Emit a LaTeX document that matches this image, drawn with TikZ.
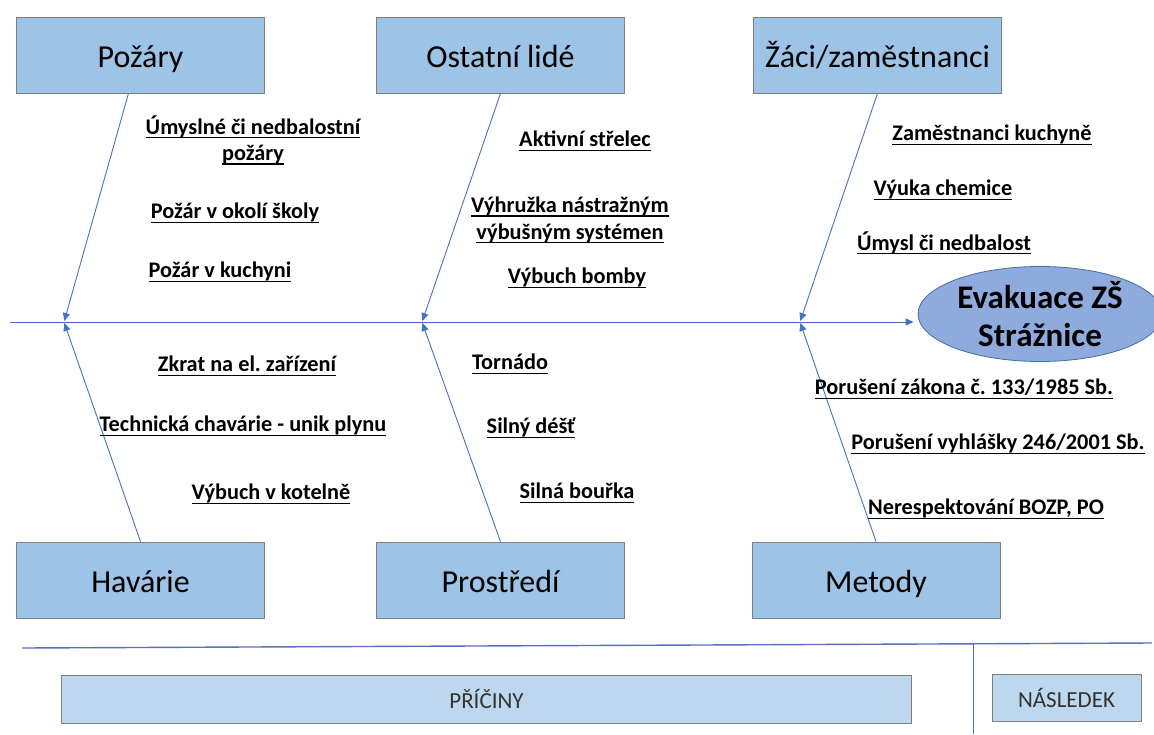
\documentclass[tikz,border=0pt]{standalone}
\usepackage{fontspec}
\setmainfont{Carlito}
\usetikzlibrary{arrows.meta,shapes.geometric}
\definecolor{bonecol}{HTML}{4472C4}
\definecolor{boxfill}{HTML}{9DC3E6}
\definecolor{boxline}{HTML}{7F7F7F}
\definecolor{footfill}{HTML}{BDD7EE}
\definecolor{effectfill}{HTML}{8FAADC}
\definecolor{effectline}{HTML}{41719C}
\definecolor{rulecol}{HTML}{5A6FBF}
\newcommand{\causeul}[1]{\setbox0\hbox{#1}\leavevmode\rlap{\rule[-4pt]{\wd0}{1.3pt}}\box0}
\frenchspacing

\begin{document}
\begin{tikzpicture}[x=1pt,y=-1pt,
  category/.style={draw=boxline,line width=0.8pt,fill=boxfill,minimum width=248pt,minimum height=76pt,inner sep=0pt,text height=24pt,text depth=0pt,font=\fontsize{32}{38}\selectfont},
  cause/.style={font=\fontsize{22.3}{26.5}\selectfont\bfseries,align=center,inner sep=0pt},
  bone/.style={draw=bonecol,line width=0.9pt,shorten >=1pt,-{Triangle[length=8pt,width=7pt]}},
  footbox/.style={draw=boxline,line width=0.8pt,fill=footfill,minimum height=48pt,inner sep=0pt,font=\fontsize{23}{27}\selectfont,text=black!80}]
\useasboundingbox (0,0) rectangle (1154,734);
\node[category] (pozary) at (140.5,55) {Požáry};
\node[category] (lide) at (500.5,55) {Ostatní lidé};
\node[category] (zaci) at (877.5,55) {Žáci/zaměstnanci};
\node[category] (havarie) at (140.5,580) {Havárie};
\node[category] (prostredi) at (500.5,580) {Prostředí};
\node[category] (metody) at (876,580) {Metody};
\node[ellipse,draw=effectline,line width=0.8pt,fill=effectfill,minimum width=244pt,minimum height=95pt,inner sep=0pt,
  font=\fontsize{33}{38}\selectfont\bfseries,align=center] (evakuace) at (1040,314) {Evakuace ZŠ\\Strážnice};
\coordinate (tail) at (10,322);
\coordinate (j1) at (64,322);
\coordinate (j2) at (422,322);
\coordinate (j3) at (800,322);
\draw[bone,shorten >=4pt] (tail) -- (tail -| evakuace.west);
\draw[bone] ([xshift=-12pt]pozary.south) -- (j1);
\draw[bone] (havarie.north) -- (j1);
\draw[bone] (lide.south) -- (j2);
\draw[bone] (prostredi.north) -- (j2);
\draw[bone] (zaci.south) -- (j3);
\draw[bone] (metody.north) -- (j3);
\node[cause] (umysl) at (253,140) {\causeul{Úmyslné či nedbalostní}\\\causeul{požáry}};
\node[cause] (okoli) at (235,213) {\causeul{Požár v okolí školy}};
\node[cause] (kuchyne) at (220,272) {\causeul{Požár v kuchyni}};
\node[cause] (strelec) at (585,141) {\causeul{Aktivní střelec}};
\node[cause] (vyhruzka) at (570,220) {\causeul{Výhružka nástražným}\\\causeul{výbušným systémen}};
\node[cause] (bomba) at (577,278) {\causeul{Výbuch bomby}};
\node[cause] (personal) at (992,135) {\causeul{Zaměstnanci kuchyně}};
\node[cause] (chemie) at (943,190) {\causeul{Výuka chemice}};
\node[cause] (nedbalost) at (944,243) {\causeul{Úmysl či nedbalost}};
\node[cause] (zkrat) at (247,366) {\causeul{Zkrat na el. zařízení}};
\node[cause] (plyn) at (243,426) {\causeul{Technická chavárie - unik plynu}};
\node[cause] (kotelna) at (271,494) {\causeul{Výbuch v kotelně}};
\node[cause] (tornado) at (510,364) {\causeul{Tornádo}};
\node[cause] (dest) at (531,428) {\causeul{Silný déšť}};
\node[cause] (bourka) at (577,493) {\causeul{Silná bouřka}};
\node[cause] (zakon) at (964,389) {\causeul{Porušení zákona č. 133/1985 Sb.}};
\node[cause] (vyhlaska) at (998,444) {\causeul{Porušení vyhlášky 246/2001 Sb.}};
\node[cause] (bozp) at (986,509) {\causeul{Nerespektování BOZP, PO}};
\coordinate (rulestart) at (22,648);
\coordinate (ruleend) at (1152,643);
\coordinate (divtop) at (973,644);
\coordinate (divbot) at (973,734);
\draw[rulecol,line width=1.4pt] (rulestart) -- (ruleend);
\draw[bonecol,line width=0.8pt] (divtop) -- (divbot);
\node[footbox,minimum width=850pt] (priciny) at (486.5,699) {PŘÍČINY};
\node[footbox,minimum width=149pt,minimum height=47pt] (nasledek) at (1066.5,697.5) {NÁSLEDEK};
\end{tikzpicture}
\end{document}
